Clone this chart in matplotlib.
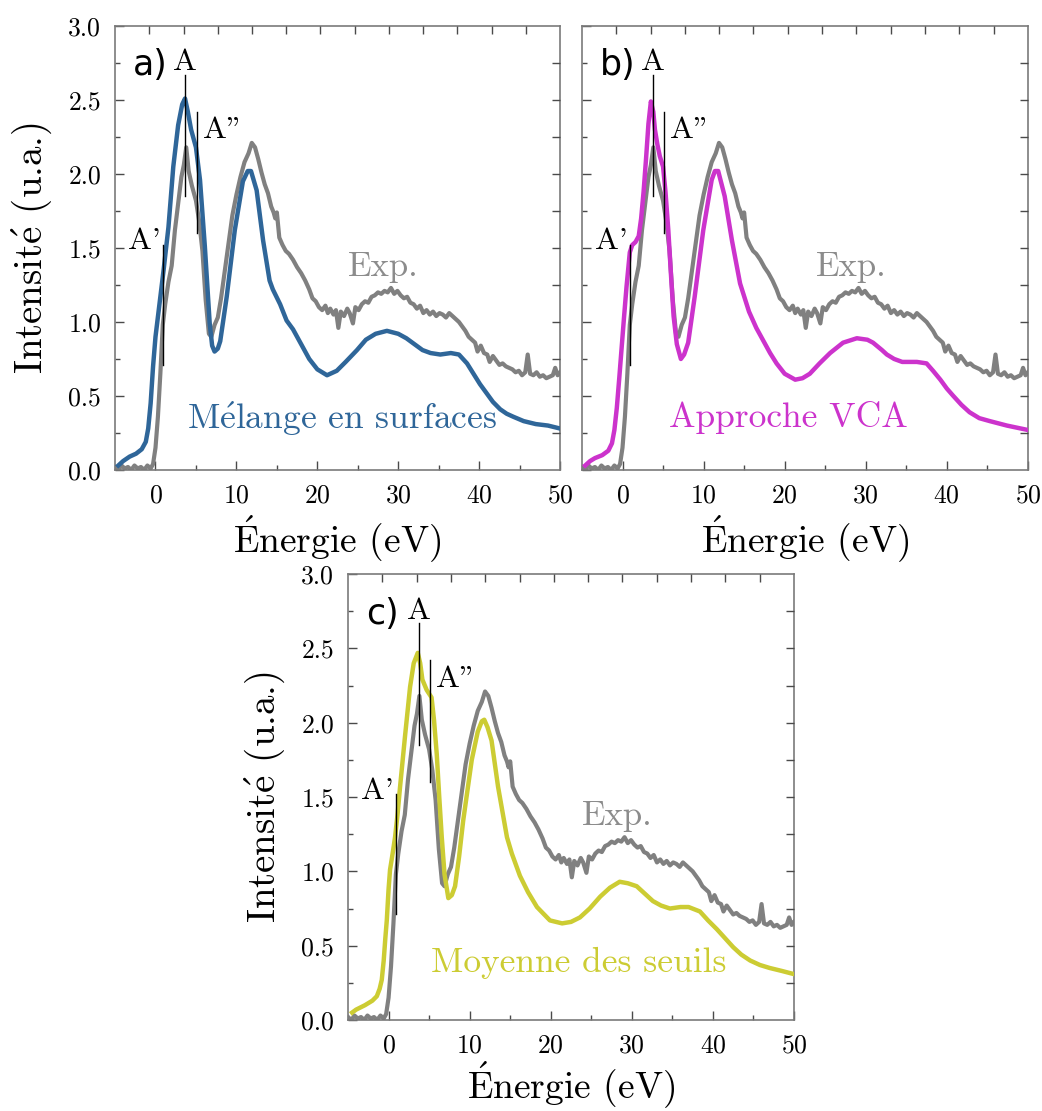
"""
Spectres d'absorption : comparaison experience / trois modeles de calcul.

Creates a three-panel figure (a, b, c) and saves it to out.png
"""

import numpy as np
import matplotlib
matplotlib.use('Agg')
import matplotlib.pyplot as plt
from matplotlib.ticker import MultipleLocator, NullFormatter, FormatStrFormatter

plt.rcParams['font.family'] = ['cmr10']
plt.rcParams['mathtext.fontset'] = 'cm'
plt.rcParams['axes.formatter.use_mathtext'] = True

# ---------------------------------------------------------------------------
# Data (energy in eV, intensity in a.u.)
# ---------------------------------------------------------------------------
exp_energy = [-5.0, -4.6, -4.2, -3.8, -3.4, -3.0, -2.6, -2.2, -1.8, -1.4, -1.0, -0.6,
              -0.3, 0.0, 0.3, 0.6, 0.9, 1.2, 1.6, 2.0, 2.4, 2.8, 3.2, 3.5, 3.8, 4.1,
              4.5, 5.0, 5.4, 5.8, 6.2, 6.6, 6.9, 7.3, 7.7, 8.1, 8.5, 9.0, 9.5, 10.0,
              10.5, 11.0, 11.5, 11.9, 12.3, 12.7, 13.1, 13.5, 13.9, 14.3, 14.6, 14.8,
              15.0, 15.3, 15.7, 16.1, 16.5, 17.0, 17.5, 18.0, 18.5, 19.0, 19.4, 19.8,
              20.2, 20.6, 21.0, 21.3, 21.6, 22.0, 22.3, 22.6, 22.9, 23.3, 23.7, 24.0,
              24.4, 24.7, 25.1, 25.5, 25.9, 26.3, 26.7, 27.1, 27.5, 27.9, 28.3, 28.7,
              29.1, 29.5, 29.9, 30.3, 30.7, 31.1, 31.5, 31.9, 32.3, 32.7, 33.1, 33.5,
              33.9, 34.3, 34.7, 35.1, 35.5, 35.9, 36.3, 36.7, 37.1, 37.5, 37.9, 38.3,
              38.7, 39.1, 39.5, 39.8, 40.2, 40.6, 41.0, 41.3, 41.7, 42.1, 42.5, 42.9,
              43.3, 43.7, 44.1, 44.5, 44.9, 45.3, 45.7, 46.0, 46.3, 46.7, 47.1, 47.5,
              47.9, 48.3, 48.7, 49.1, 49.4, 49.7, 50.0]
exp_intensity = [0.02, 0.00, 0.03, 0.01, 0.02, 0.00, 0.03, 0.01, 0.02, 0.00, 0.03, 0.01,
                 0.04, 0.15, 0.36, 0.65, 0.98, 1.12, 1.27, 1.38, 1.62, 1.80, 1.98, 2.06, 2.18, 2.02,
                 1.92, 1.82, 1.68, 1.48, 1.15, 0.92, 0.90, 0.98, 1.03, 1.16, 1.32, 1.52, 1.72, 1.86,
                 1.98, 2.08, 2.14, 2.21, 2.18, 2.10, 2.01, 1.93, 1.87, 1.78, 1.74, 1.70,
                 1.74, 1.57, 1.52, 1.48, 1.46, 1.42, 1.37, 1.33, 1.28, 1.22, 1.16, 1.14,
                 1.10, 1.08, 1.11, 1.06, 1.09, 1.05, 1.08, 0.96, 1.07, 1.04, 1.09, 1.06,
                 0.99, 1.10, 1.08, 1.12, 1.14, 1.13, 1.17, 1.18, 1.20, 1.19, 1.21, 1.20,
                 1.23, 1.19, 1.21, 1.18, 1.16, 1.17, 1.13, 1.12, 1.09, 1.11, 1.06, 1.08,
                 1.05, 1.07, 1.04, 1.06, 1.05, 1.03, 1.06, 1.04, 1.02, 1.00, 0.97, 0.94,
                 0.90, 0.88, 0.86, 0.80, 0.84, 0.79, 0.78, 0.73, 0.77, 0.74, 0.71, 0.72,
                 0.70, 0.69, 0.68, 0.66, 0.67, 0.64, 0.66, 0.78, 0.65, 0.64, 0.66, 0.63,
                 0.64, 0.62, 0.63, 0.64, 0.69, 0.64, 0.66]

# a) Melange en surfaces
mel_energy = [-4.6, -4.0, -3.2, -2.4, -1.7, -1.2, -0.9, -0.6, -0.3, 0.0, 0.4, 1.0, 1.6,
              2.2, 2.8, 3.3, 3.65, 4.0, 4.4, 5.0, 5.5, 6.1, 6.7, 7.0, 7.3, 7.7, 8.0,
              8.8, 9.8, 10.8, 11.4, 11.8, 12.5, 13.3, 14.1, 14.5, 15.4, 16.2, 17.0,
              18.0, 19.0, 20.0, 21.2, 22.4, 23.5, 24.9, 26.0, 27.2, 28.6, 30.0, 31.0,
              32.0, 33.0, 34.0, 35.2, 36.5, 37.5, 38.5, 39.3, 40.1, 40.9, 41.7, 42.6,
              43.4, 44.2, 45.5, 47.0, 48.5, 50.0]
mel_intensity = [0.03, 0.06, 0.09, 0.11, 0.14, 0.19, 0.28, 0.45, 0.70, 0.90, 1.08, 1.35, 1.64,
                 2.05, 2.33, 2.47, 2.51, 2.42, 2.30, 2.18, 1.96, 1.51, 0.99, 0.84, 0.80, 0.82, 0.87,
                 1.17, 1.62, 1.95, 2.02, 2.02, 1.89, 1.55, 1.28, 1.22, 1.12, 1.01, 0.95,
                 0.85, 0.75, 0.68, 0.64, 0.67, 0.73, 0.81, 0.88, 0.92, 0.94, 0.92, 0.89,
                 0.85, 0.81, 0.79, 0.78, 0.79, 0.78, 0.72, 0.65, 0.58, 0.52, 0.46, 0.41,
                 0.38, 0.36, 0.33, 0.31, 0.30, 0.28]

# b) Approche VCA
vca_energy = [-4.6, -4.0, -3.4, -2.5, -1.75, -1.3, -1.0, -0.7, -0.4, -0.1, 0.2, 0.5, 0.9,
              1.2, 1.6, 2.0, 2.3, 2.6, 2.9, 3.2, 3.5, 3.8, 4.0, 4.3, 4.6, 5.0, 5.3, 5.65,
              6.0, 6.3, 6.7, 7.2, 7.6, 8.1, 8.9, 9.96, 11.0, 11.4, 11.8, 12.6, 13.5,
              14.5, 15.6, 16.5, 17.4, 18.2, 19.0, 20.0, 21.3, 22.2, 23.1, 24.3, 25.6,
              27.2, 28.9, 30.2, 30.9, 32.0, 32.6, 33.5, 34.5, 36.3, 37.5, 38.3, 39.2,
              40.0, 40.8, 41.8, 42.8, 44.0, 45.3, 47.4, 50.0]
vca_intensity = [0.03, 0.06, 0.08, 0.10, 0.13, 0.18, 0.27, 0.42, 0.62, 0.83, 1.04, 1.24, 1.47,
                 1.52, 1.54, 1.58, 1.70, 1.88, 2.10, 2.34, 2.49, 2.42, 2.30, 2.20, 2.12, 2.05, 1.88, 1.62,
                 1.30, 1.04, 0.85, 0.75, 0.78, 0.86, 1.17, 1.62, 1.96, 2.02, 2.02, 1.85, 1.55,
                 1.26, 1.07, 0.96, 0.87, 0.79, 0.72, 0.65, 0.61, 0.62, 0.65, 0.72, 0.79,
                 0.86, 0.89, 0.88, 0.86, 0.81, 0.78, 0.75, 0.73, 0.73, 0.72, 0.67, 0.61,
                 0.55, 0.50, 0.44, 0.39, 0.35, 0.33, 0.30, 0.27]

# c) Moyenne des seuils
moy_energy = [-4.5, -4.0, -2.9, -2.0, -1.45, -1.1, -0.84, -0.6, -0.4, -0.22, 0.0, 0.18, 0.5,
              0.8, 1.1, 1.42, 2.03, 2.65, 3.1, 3.6, 3.9, 4.17, 4.7, 5.3, 5.6, 5.94, 6.25,
              6.56, 6.9, 7.37, 7.8, 8.2, 8.7, 9.2, 10.26, 11.0, 11.5, 11.8, 12.2, 12.7,
              13.5, 14.6, 15.2, 16.2, 17.2, 18.3, 19.9, 21.4, 22.5, 23.6, 24.8, 26.1,
              27.3, 28.5, 29.5, 30.6, 31.6, 32.6, 33.6, 34.7, 36.0, 37.0, 38.4, 39.4,
              40.5, 41.5, 42.5, 43.5, 44.6, 45.8, 47.0, 48.5, 49.9]
moy_intensity = [0.05, 0.07, 0.10, 0.13, 0.16, 0.21, 0.27, 0.40, 0.55, 0.67, 0.88, 1.01, 1.12,
                 1.23, 1.38, 1.57, 1.91, 2.24, 2.40, 2.47, 2.40, 2.29, 2.22, 2.17, 2.02, 1.79, 1.50,
                 1.23, 0.98, 0.82, 0.84, 0.90, 1.10, 1.34, 1.75, 1.94, 2.01, 2.02, 1.97, 1.88,
                 1.57, 1.23, 1.12, 0.97, 0.86, 0.76, 0.67, 0.65, 0.66, 0.69, 0.75, 0.83,
                 0.89, 0.93, 0.92, 0.90, 0.85, 0.80, 0.77, 0.75, 0.76, 0.76, 0.73, 0.67,
                 0.61, 0.55, 0.49, 0.44, 0.40, 0.37, 0.35, 0.33, 0.31]

# Peak markers: (energy, y_bottom, y_top)
peak_A = (3.7, 1.85, 2.67)
peak_A2 = (5.1, 1.60, 2.42)
peak_A1 = (0.95, 0.71, 1.52)

EXP_COLOR = '#808080'
SPINE_COLOR = '#7a7a7a'
TICK_COLOR = '#4a4a4a'

# plain cmr10 text, with the accented letters drawn by mathtext
XLABEL = r'$\mathrm{\acute{E}}$nergie (eV)'
YLABEL = r'Intensit$\mathrm{\acute{e}}$ (u.a.)'


def setup_axes(ax, show_ylabels=True, xlabelpad=8):
    """Axis limits, ticks and labels shared by the three panels."""
    ax.set_xlim(-5, 50)
    ax.set_ylim(0, 3.0)

    ax.xaxis.set_major_locator(MultipleLocator(10))
    ax.xaxis.set_minor_locator(MultipleLocator(5))
    ax.yaxis.set_major_locator(MultipleLocator(0.5))
    ax.yaxis.set_minor_locator(MultipleLocator(0.25))
    ax.yaxis.set_major_formatter(FormatStrFormatter('%.1f'))

    ax.tick_params(which='both', direction='in', top=False, right=False,
                   color=TICK_COLOR, width=1.0, labelsize=18.5)
    ax.tick_params(which='major', length=6.5, pad=10)
    ax.tick_params(which='minor', length=3.5)

    for sp in ax.spines.values():
        sp.set_color(SPINE_COLOR)
        sp.set_linewidth(1.2)

    ax.set_xlabel(XLABEL, fontsize=27, labelpad=xlabelpad)
    if show_ylabels:
        ax.set_ylabel(YLABEL, fontsize=28, labelpad=10)
    else:
        ax.yaxis.set_major_formatter(NullFormatter())

    # top axis: 13 equal intervals, right axis: every 0.25
    top = ax.twiny()
    top.set_xlim(0, 13)
    top.set_xticks(np.arange(1, 13))
    top.tick_params(axis='x', direction='in', length=6, color=TICK_COLOR,
                    width=1.0, labeltop=False)
    right = ax.twinx()
    right.set_ylim(0, 3.0)
    right.set_yticks(np.arange(0.25, 3.0, 0.25))
    right.tick_params(axis='y', direction='in', length=6, color=TICK_COLOR,
                      width=1.0, labelright=False)
    for tw in (top, right):
        for sp in tw.spines.values():
            sp.set_visible(False)


def draw_panel(ax, letter, calc_e, calc_i, color, label, label_pos,
               show_ylabels=True, xlabelpad=8):
    """Experimental curve, one calculated curve, peak markers and labels."""
    ax.plot(exp_energy, exp_intensity, color=EXP_COLOR, linewidth=3.0, zorder=2)
    ax.plot(calc_e, calc_i, color=color, linewidth=3.2, zorder=3)

    # peak markers
    for e, y0, y1 in (peak_A, peak_A2, peak_A1):
        ax.plot([e, e], [y0, y1], color='black', linewidth=1.0, zorder=4)

    ax.text(3.7, 2.70, 'A', fontsize=23, ha='center', va='baseline')
    ax.text(5.9, 2.24, 'A"', fontsize=23, ha='left', va='baseline')
    ax.text(-3.35, 1.49, "A'", fontsize=23, ha='left', va='baseline')

    ax.text(28.2, 1.31, 'Exp.', fontsize=25, color='#8c8c8c',
            ha='center', va='baseline')
    ax.text(label_pos[0], label_pos[1], label, fontsize=25.5, color=color,
            ha='center', va='baseline')

    ax.text(0.04, 0.889, letter, transform=ax.transAxes, fontsize=25,
            family='DejaVu Sans', ha='left', va='baseline')

    setup_axes(ax, show_ylabels, xlabelpad)


def main():
    fig = plt.figure(figsize=(10.42, 11.11), dpi=100)

    ax_a = fig.add_axes([0.1104, 0.5770, 0.4271, 0.3996])
    ax_b = fig.add_axes([0.5585, 0.5770, 0.4280, 0.3996])
    ax_c = fig.add_axes([0.3340, 0.0819, 0.4280, 0.4014])

    draw_panel(ax_a, 'a)', mel_energy, mel_intensity, '#2f6699',
               r'M$\mathrm{\acute{e}}$lange en surfaces', (23.0, 0.28), xlabelpad=4)
    draw_panel(ax_b, 'b)', vca_energy, vca_intensity, '#cc33cc',
               'Approche VCA', (20.5, 0.29), show_ylabels=False, xlabelpad=4)
    draw_panel(ax_c, 'c)', moy_energy, moy_intensity, '#cccc33',
               'Moyenne des seuils', (23.45, 0.32), xlabelpad=1)

    fig.savefig('out.png', dpi=100)
    plt.close(fig)


if __name__ == '__main__':
    main()
